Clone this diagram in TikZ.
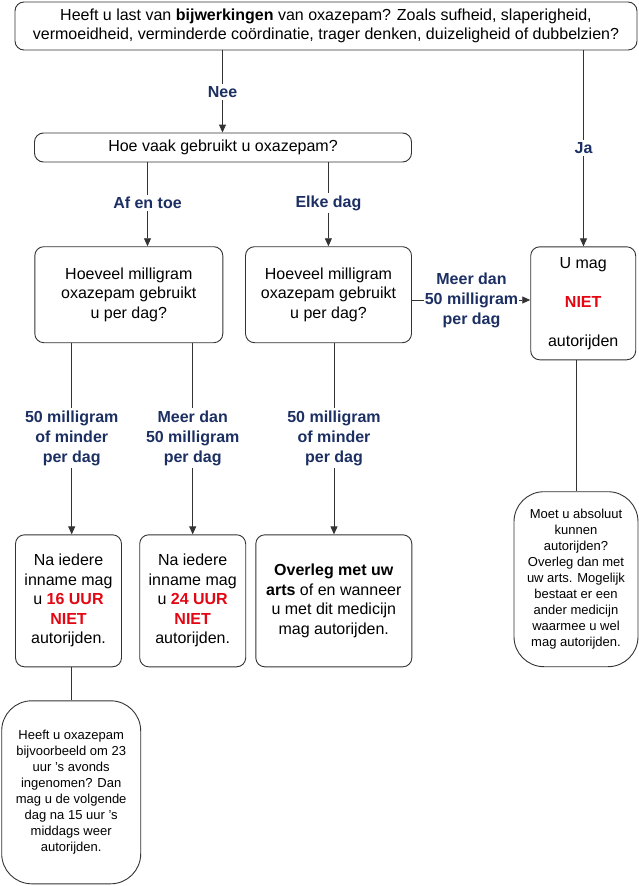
\documentclass[tikz,border=0pt]{standalone}
\usepackage{fontspec}
\setmainfont{Liberation Sans}
\usetikzlibrary{arrows.meta}
\definecolor{navy}{HTML}{1C2F63}
\definecolor{nred}{HTML}{E30613}
\definecolor{linec}{HTML}{333333}
\newcommand{\mainf}{\fontsize{16}{19.5}\selectfont}
\newcommand{\smallf}{\fontsize{13}{16}\selectfont}
\newcommand{\lblf}{\fontsize{16}{20}\selectfont\bfseries}
\newcommand{\rd}[1]{{\bfseries\color{nred}#1}}
\begin{document}
\begin{tikzpicture}[x=1pt,y=-1pt,
  box/.style={draw=linec, line width=0.9pt, rounded corners=9pt, align=center, font=\mainf, inner sep=0pt},
  bubble/.style={draw=linec, line width=0.9pt, rounded corners=30pt, align=center, font=\smallf, inner sep=0pt},
  lbl/.style={font=\lblf, text=navy, align=center, inner sep=2pt},
  conn/.style={draw=linec, line width=0.9pt},
  arr/.style={conn, -{Triangle[length=8pt,width=7pt]}}]
\useasboundingbox (0,0) rectangle (639,886);
% boxes
\node[box, minimum width=622pt, minimum height=48pt] (Top) at (326,26)
  {Heeft u last van \textbf{bijwerkingen} van oxazepam? Zoals sufheid, slaperigheid,\\vermoeidheid, verminderde coördinatie, trager denken, duizeligheid of dubbelzien?};
\node[box, minimum width=377pt, minimum height=29pt] (Hoe) at (223,147.5) {Hoe vaak gebruikt u oxazepam?};
\node[box, minimum width=188pt, minimum height=96pt] (A) at (128.8,294.7) {Hoeveel milligram\\oxazepam gebruikt\\u per dag?};
\node[box, minimum width=166pt, minimum height=96pt] (B) at (328.5,294.7) {Hoeveel milligram\\oxazepam gebruikt\\u per dag?};
\node[box, minimum width=105pt, minimum height=113pt] (UMag) at (583.2,303.3) {U mag\\[\baselineskip]\rd{NIET}\\[\baselineskip]autorijden};
\node[box, minimum width=106pt, minimum height=132pt] (C) at (68.5,600.8) {Na iedere\\inname mag\\u \rd{16 UUR}\\\rd{NIET}\\autorijden.};
\node[box, minimum width=106pt, minimum height=132pt] (D) at (192.7,600.8) {Na iedere\\inname mag\\u \rd{24 UUR}\\\rd{NIET}\\autorijden.};
\node[box, minimum width=156pt, minimum height=132pt] (E) at (333.8,600.8) {\textbf{Overleg met uw}\\\textbf{arts} of en wanneer\\u met dit medicijn\\mag autorijden.};
\node[bubble, minimum width=124pt, minimum height=175pt] (Moet) at (576,579.2) {Moet u absoluut\\kunnen\\autorijden?\\Overleg dan met\\uw arts. Mogelijk\\bestaat er een\\ander medicijn\\waarmee u wel\\mag autorijden.};
\node[bubble, minimum width=139pt, minimum height=183pt] (Heeft) at (71.2,792.3) {Heeft u oxazepam\\bijvoorbeeld om 23\\uur 's avonds\\ingenomen? Dan\\mag u de volgende\\dag na 15 uur 's\\middags weer\\autorijden.};
% labels
\node[lbl] (Nee) at (222.5,92) {Nee};
\node[lbl] (Ja) at (583.5,148) {Ja};
\node[lbl] (Af) at (147.5,203) {Af en toe};
\node[lbl] (Elke) at (328.4,203) {Elke dag};
\node[lbl, inner sep=1pt] (Meer) at (471.5,300) {Meer dan\\50 milligram\\per dag};
\node[lbl] (L1) at (71.7,438) {50 milligram\\of minder\\per dag};
\node[lbl] (L2) at (192.7,438) {Meer dan\\50 milligram\\per dag};
\node[lbl] (L3) at (334,438) {50 milligram\\of minder\\per dag};
% connectors
\draw[conn] (Top.south -| Nee) -- (Nee);
\draw[arr] (Nee) -- (Hoe.north -| Nee);
\draw[conn] (Top.south -| Ja) -- (Ja);
\draw[arr] (Ja) -- (UMag.north -| Ja);
\draw[conn] (Hoe.south -| Af) -- (Af);
\draw[arr] (Af) -- (A.north -| Af);
\draw[conn] (Hoe.south -| Elke) -- (Elke);
\draw[arr] (Elke) -- (B.north -| Elke);
\draw[conn] (B.east |- Meer) -- (Meer);
\draw[arr] (Meer) -- (UMag.west |- Meer);
\draw[conn] (A.south -| L1) -- (L1);
\draw[arr] (L1) -- (C.north -| L1);
\draw[conn] (A.south -| L2) -- (L2);
\draw[arr] (L2) -- (D.north -| L2);
\draw[conn] (B.south -| L3) -- (L3);
\draw[arr] (L3) -- (E.north -| L3);
\draw[conn] (UMag.south -| Moet.north) -- (Moet.north);
\draw[conn] (C.south -| Heeft.north) -- (Heeft.north);
\end{tikzpicture}
\end{document}
